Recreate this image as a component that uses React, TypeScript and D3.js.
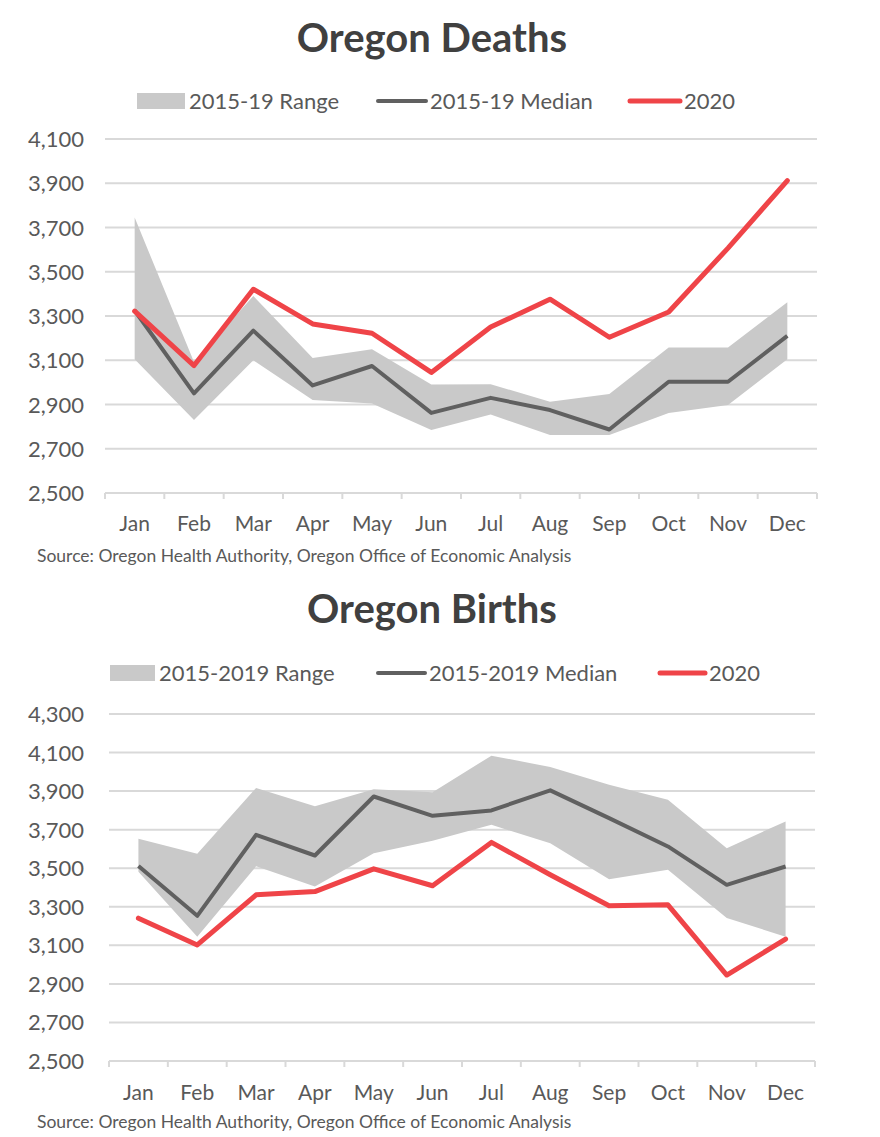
import React, { useEffect, useRef } from 'react';
import * as d3 from 'd3';

const months = ['Jan', 'Feb', 'Mar', 'Apr', 'May', 'Jun', 'Jul', 'Aug', 'Sep', 'Oct', 'Nov', 'Dec'];

// Deaths
const deathsLow = [3105, 2830, 3100, 2920, 2905, 2785, 2855, 2762, 2762, 2862, 2898, 3105];
const deathsHigh = [3745, 3092, 3390, 3110, 3150, 2990, 2992, 2912, 2948, 3158, 3158, 3362];
const deathsMedian = [3325, 2950, 3234, 2986, 3074, 2862, 2930, 2875, 2787, 3003, 3003, 3210];
const deaths2020 = [3322, 3076, 3421, 3264, 3222, 3045, 3250, 3376, 3204, 3318, 3607, 3912];
const deathsTicks = [2500, 2700, 2900, 3100, 3300, 3500, 3700, 3900, 4100];

// Births
const birthsLow = [3482, 3145, 3510, 3405, 3578, 3642, 3725, 3630, 3443, 3492, 3242, 3145];
const birthsHigh = [3653, 3575, 3916, 3821, 3910, 3894, 4084, 4025, 3933, 3855, 3604, 3743];
const birthsMedian = [3512, 3253, 3673, 3566, 3872, 3772, 3800, 3904, 3760, 3613, 3414, 3509];
const births2020 = [3241, 3102, 3362, 3379, 3497, 3409, 3634, 3466, 3305, 3310, 2946, 3132];
const birthsTicks = [2500, 2700, 2900, 3100, 3300, 3500, 3700, 3900, 4100, 4300];

const FONT = 'Lato, "Open Sans", sans-serif';
const TEXT = '#595959';
const GRID = '#d9d9d9';
const BAND = '#c9c9c9';
const MEDIAN = '#606060';
const RED = '#ef4448';

interface ChartOpts {
  title: string;
  titleY: number;
  legendY: number;
  legend: { label: string; x: number; w: number }[];
  left: number;
  right: number;
  top: number;
  bottom: number;
  ticks: number[];
  low: number[];
  high: number[];
  median: number[];
  current: number[];
  labelY: number;
  sourceY: number;
}

function drawChart(svg: d3.Selection<SVGSVGElement, unknown, null, undefined>, o: ChartOpts) {
  const g = svg.append('g');
  const x = d3.scaleBand<string>().domain(months).range([o.left, o.right]).padding(0);
  const y = d3.scaleLinear().domain([o.ticks[0], o.ticks[o.ticks.length - 1]]).range([o.bottom, o.top]);
  const cx = (m: string) => (x(m) as number) + x.bandwidth() / 2;

  // title
  g.append('text')
    .attr('x', 432)
    .attr('y', o.titleY)
    .attr('text-anchor', 'middle')
    .attr('fill', '#404040')
    .style('font-family', FONT)
    .style('font-size', '40px')
    .style('font-weight', 'bold')
    .text(o.title);

  // legend
  o.legend.forEach((item, i) => {
    const lg = g.append('g');
    if (i === 0) {
      lg.append('rect').attr('x', item.x).attr('y', o.legendY - 8).attr('width', item.w).attr('height', 16).attr('fill', BAND);
    } else {
      lg.append('line')
        .attr('x1', item.x).attr('x2', item.x + item.w)
        .attr('y1', o.legendY).attr('y2', o.legendY)
        .attr('stroke', i === 1 ? MEDIAN : RED)
        .attr('stroke-width', i === 1 ? 4 : 5)
        .attr('stroke-linecap', 'round');
    }
    lg.append('text')
      .attr('x', item.x + item.w + 4)
      .attr('y', o.legendY + 8)
      .attr('fill', TEXT)
      .style('font-family', FONT)
      .style('font-size', '22px')
      .text(item.label);
  });

  // grid
  g.selectAll('.grid')
    .data(o.ticks)
    .enter()
    .append('line')
    .attr('x1', o.left).attr('x2', o.right)
    .attr('y1', d => y(d)).attr('y2', d => y(d))
    .attr('stroke', GRID)
    .attr('stroke-width', 2);

  // tick marks on baseline
  const bounds = months.map(m => x(m) as number).concat([o.right]);
  g.selectAll('.tick')
    .data(bounds)
    .enter()
    .append('line')
    .attr('x1', d => d).attr('x2', d => d)
    .attr('y1', o.bottom).attr('y2', o.bottom + 6)
    .attr('stroke', GRID)
    .attr('stroke-width', 2);

  // y labels
  g.selectAll('.ylab')
    .data(o.ticks)
    .enter()
    .append('text')
    .attr('x', 84)
    .attr('y', d => y(d) + 8)
    .attr('text-anchor', 'end')
    .attr('fill', TEXT)
    .style('font-family', FONT)
    .style('font-size', '22px')
    .text(d => d3.format(',')(d));

  // x labels
  g.selectAll('.xlab')
    .data(months)
    .enter()
    .append('text')
    .attr('x', d => cx(d))
    .attr('y', o.labelY)
    .attr('text-anchor', 'middle')
    .attr('fill', TEXT)
    .style('font-family', FONT)
    .style('font-size', '21px')
    .text(d => d);

  // range band
  const area = d3.area<number>()
    .x((_, i) => cx(months[i]))
    .y0((_, i) => y(o.low[i]))
    .y1(d => y(d));
  g.append('path').attr('d', area(o.high) as string).attr('fill', BAND);

  const line = d3.line<number>().x((_, i) => cx(months[i])).y(d => y(d));
  g.append('path')
    .attr('d', line(o.median) as string)
    .attr('fill', 'none')
    .attr('stroke', MEDIAN)
    .attr('stroke-width', 4)
    .attr('stroke-linejoin', 'round');
  g.append('path')
    .attr('d', line(o.current) as string)
    .attr('fill', 'none')
    .attr('stroke', RED)
    .attr('stroke-width', 5)
    .attr('stroke-linejoin', 'round')
    .attr('stroke-linecap', 'round');

  // source
  g.append('text')
    .attr('x', 37)
    .attr('y', o.sourceY)
    .attr('fill', TEXT)
    .style('font-family', FONT)
    .style('font-size', '17.5px')
    .text('Source: Oregon Health Authority, Oregon Office of Economic Analysis');
}

export default function App() {
  const svgRef = useRef<SVGSVGElement>(null);

  useEffect(() => {
    if (!svgRef.current) return;
    const svg = d3.select(svgRef.current);
    svg.selectAll('*').remove();

    drawChart(svg, {
      title: 'Oregon Deaths',
      titleY: 52,
      legendY: 101,
      legend: [
        { label: '2015-19 Range', x: 137, w: 48 },
        { label: '2015-19 Median', x: 378, w: 48 },
        { label: '2020', x: 630, w: 50 },
      ],
      left: 105, right: 817, top: 139, bottom: 493,
      ticks: deathsTicks,
      low: deathsLow, high: deathsHigh, median: deathsMedian, current: deaths2020,
      labelY: 531,
      sourceY: 562,
    });

    drawChart(svg, {
      title: 'Oregon Births',
      titleY: 623,
      legendY: 673,
      legend: [
        { label: '2015-2019 Range', x: 110, w: 45 },
        { label: '2015-2019 Median', x: 378, w: 47 },
        { label: '2020', x: 660, w: 45 },
      ],
      left: 109, right: 815, top: 714, bottom: 1061,
      ticks: birthsTicks,
      low: birthsLow, high: birthsHigh, median: birthsMedian, current: births2020,
      labelY: 1100,
      sourceY: 1128,
    });
  }, []);

  return (
    <svg
      ref={svgRef}
      width={880}
      height={1137}
      style={{ position: 'absolute', left: 0, top: 0, background: '#fff' }}
    />
  );
}
